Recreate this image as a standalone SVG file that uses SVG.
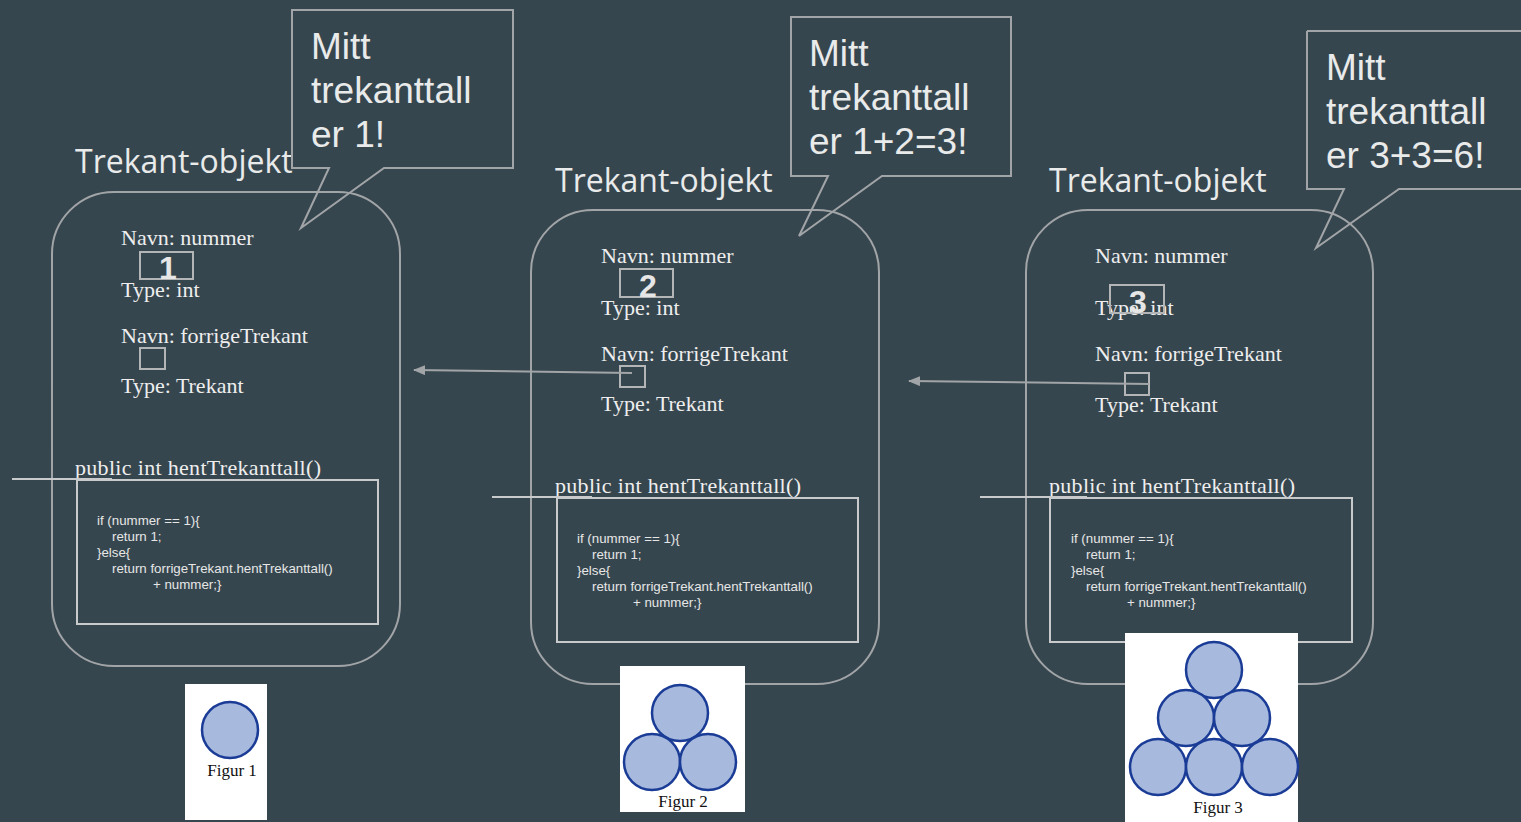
<svg xmlns="http://www.w3.org/2000/svg" width="1521" height="822" viewBox="0 0 1521 822">
<style>
.obj{fill:none;stroke:#a2a5a7;stroke-width:2}
.call{fill:none;stroke:#a2a5a7;stroke-width:2}
.code{fill:none;stroke:#c8cacb;stroke-width:2}
.slot{fill:none;stroke:#b3b5b7;stroke-width:2}
.title{font-family:"Open Sans","Noto Sans",sans-serif;font-size:32px;fill:#e9eaea}
.ct{font-family:"Liberation Sans",Arial,sans-serif;font-size:37px;fill:#e9eaea}
.sf{font-family:"Liberation Serif","Times New Roman",serif;font-size:22px;fill:#eeeeee}
.num{font-family:"Liberation Sans",Arial,sans-serif;font-size:32px;font-weight:bold;fill:#e6e6e6;text-anchor:middle}
.cd{font-family:"Liberation Sans",Arial,sans-serif;font-size:13.3px;fill:#e6e6e6}
.conn{fill:none;stroke:#a2a5a7;stroke-width:2}
.fig{fill:#ffffff}
.ball{fill:#a7b9dd;stroke:#1a3c96;stroke-width:2.5}
.fl{font-family:"Liberation Serif","Times New Roman",serif;font-size:17px;fill:#111111;text-anchor:middle}
</style>
<defs>
<marker id="ah" markerWidth="12" markerHeight="10" refX="11" refY="5" orient="auto" markerUnits="userSpaceOnUse" viewBox="0 0 12 10">
<path d="M0,0 L12,5 L0,10 z" fill="#a2a5a7"/>
</marker>
</defs>
<rect x="0" y="0" width="1521" height="822" fill="#36464f"/>

<g id="object1">
<text class="title" x="75" y="173">Trekant-objekt</text>
<rect class="obj" x="52" y="192" width="348" height="474" rx="62" ry="62"/>
<text class="sf" x="121" y="245">Navn: nummer</text>
<rect class="slot" x="140" y="252" width="53" height="27"/>
<text class="num" x="168" y="279">1</text>
<text class="sf" x="121" y="297">Type: int</text>
<text class="sf" x="121" y="343">Navn: forrigeTrekant</text>
<rect class="slot" x="140" y="348" width="25" height="21"/>
<text class="sf" x="121" y="393">Type: Trekant</text>
<text class="sf" x="75" y="475" textLength="246">public int hentTrekanttall()</text>
<line class="code" x1="12" y1="479" x2="112" y2="479"/>
<rect class="code" x="77" y="480" width="301" height="144"/>
<text class="cd" x="97" y="525">if (nummer == 1){</text>
<text class="cd" x="112" y="541">return 1;</text>
<text class="cd" x="97" y="557">}else{</text>
<text class="cd" x="112" y="573">return forrigeTrekant.hentTrekanttall()</text>
<text class="cd" x="153" y="589">+ nummer;}</text>
</g>

<g id="callout1">
<path class="call" d="M292,10 L513,10 L513,168 L384,168 L301,228 L329,168 L292,168 Z"/>
<text class="ct" x="311" y="59">Mitt</text>
<text class="ct" x="311" y="103">trekanttall</text>
<text class="ct" x="311" y="147">er 1!</text>
</g>

<g id="object2">
<text class="title" x="555" y="192">Trekant-objekt</text>
<rect class="obj" x="531" y="210" width="348" height="474" rx="62" ry="62"/>
<text class="sf" x="601" y="263">Navn: nummer</text>
<rect class="slot" x="620" y="269" width="53" height="28"/>
<text class="num" x="648" y="297">2</text>
<text class="sf" x="601" y="315">Type: int</text>
<text class="sf" x="601" y="361">Navn: forrigeTrekant</text>
<rect class="slot" x="620" y="366" width="25" height="21"/>
<text class="sf" x="601" y="411">Type: Trekant</text>
<text class="sf" x="555" y="493" textLength="246">public int hentTrekanttall()</text>
<line class="code" x1="492" y1="497" x2="592" y2="497"/>
<rect class="code" x="557" y="498" width="301" height="144"/>
<text class="cd" x="577" y="543">if (nummer == 1){</text>
<text class="cd" x="592" y="559">return 1;</text>
<text class="cd" x="577" y="575">}else{</text>
<text class="cd" x="592" y="591">return forrigeTrekant.hentTrekanttall()</text>
<text class="cd" x="633" y="607">+ nummer;}</text>
</g>

<g id="callout2">
<path class="call" d="M791,17 L1011,17 L1011,176 L882,176 L799,236 L828,176 L791,176 Z"/>
<text class="ct" x="809" y="66">Mitt</text>
<text class="ct" x="809" y="110">trekanttall</text>
<text class="ct" x="809" y="154">er 1+2=3!</text>
</g>

<g id="object3">
<text class="title" x="1049" y="192">Trekant-objekt</text>
<rect class="obj" x="1026" y="210" width="347" height="474" rx="62" ry="62"/>
<text class="sf" x="1095" y="263">Navn: nummer</text>
<text class="sf" x="1095" y="315">Type: int</text>
<rect class="slot" x="1110" y="285" width="54" height="28"/>
<text class="num" x="1138" y="313">3</text>
<text class="sf" x="1095" y="361">Navn: forrigeTrekant</text>
<rect class="slot" x="1125" y="373" width="24" height="22"/>
<text class="sf" x="1095" y="412">Type: Trekant</text>
<text class="sf" x="1049" y="493" textLength="246">public int hentTrekanttall()</text>
<line class="code" x1="980" y1="497" x2="1087" y2="497"/>
<rect class="code" x="1050" y="498" width="302" height="144"/>
<text class="cd" x="1071" y="543">if (nummer == 1){</text>
<text class="cd" x="1086" y="559">return 1;</text>
<text class="cd" x="1071" y="575">}else{</text>
<text class="cd" x="1086" y="591">return forrigeTrekant.hentTrekanttall()</text>
<text class="cd" x="1127" y="607">+ nummer;}</text>
</g>

<g id="callout3">
<path class="call" d="M1307,31 L1523,31 M1307,31 L1307,189 L1344,189 L1316,248 L1399,189 L1523,189"/>
<text class="ct" x="1326" y="80">Mitt</text>
<text class="ct" x="1326" y="124">trekanttall</text>
<text class="ct" x="1326" y="168">er 3+3=6!</text>
</g>

<g id="connectors">
<line class="conn" x1="632" y1="373" x2="414" y2="370" marker-end="url(#ah)"/>
<line class="conn" x1="1149" y1="384" x2="909" y2="381" marker-end="url(#ah)"/>
</g>

<g id="figur1">
<rect class="fig" x="185" y="684" width="82" height="136"/>
<circle class="ball" cx="230" cy="730" r="28"/>
<text class="fl" x="232" y="776">Figur 1</text>
</g>

<g id="figur2">
<rect class="fig" x="620" y="666" width="125" height="146"/>
<circle class="ball" cx="680" cy="713" r="28"/>
<circle class="ball" cx="652" cy="762" r="28"/>
<circle class="ball" cx="708" cy="762" r="28"/>
<text class="fl" x="683" y="807">Figur 2</text>
</g>

<g id="figur3">
<rect class="fig" x="1125" y="633" width="173" height="189"/>
<circle class="ball" cx="1214" cy="670" r="28"/>
<circle class="ball" cx="1186" cy="718" r="28"/>
<circle class="ball" cx="1242" cy="718" r="28"/>
<circle class="ball" cx="1158" cy="767" r="28"/>
<circle class="ball" cx="1214" cy="767" r="28"/>
<circle class="ball" cx="1270" cy="767" r="28"/>
<text class="fl" x="1218" y="813">Figur 3</text>
</g>
</svg>
